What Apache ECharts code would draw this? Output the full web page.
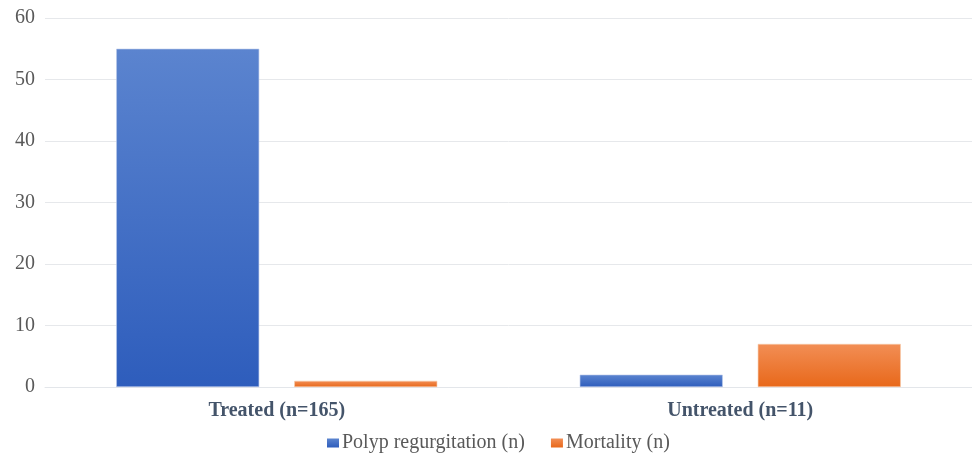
<!DOCTYPE html>
<html>
<head>
<meta charset="utf-8">
<script src="https://cdn.jsdelivr.net/npm/echarts@6/dist/echarts.min.js"></script>
<style>html,body{margin:0;padding:0;background:#fff;}#c{width:972px;height:455px;}</style>
</head>
<body>
<div id="c"></div>
<script>
const categories = ["Treated (n=165)", "Untreated (n=11)"];
const polypRegurgitation = [55, 2];
const mortality = [1, 7];
const yTicks = { min: 0, max: 60, interval: 10 };

const chart = echarts.init(document.getElementById('c'));
const grad = (top, bottom) => new echarts.graphic.LinearGradient(0, 0, 0, 1, [
  { offset: 0, color: top }, { offset: 1, color: bottom }
]);
chart.setOption({
  animation: false,
  textStyle: { fontFamily: 'Liberation Serif' },
  grid: { left: 45, right: 0, top: 18, bottom: 68 },
  legend: {
    top: 428, left: 322,
    itemWidth: 12, itemHeight: 9, itemGap: 26,
    icon: 'rect',
    itemStyle: { borderWidth: 0 },
    textStyle: { fontFamily: 'Liberation Serif', fontSize: 20, color: '#595959', padding: [0, 0, 0, -2] },
    data: ['Polyp regurgitation (n)', 'Mortality (n)']
  },
  xAxis: {
    type: 'category',
    data: categories,
    axisTick: { show: false },
    axisLine: { lineStyle: { color: '#e3e6ea' } },
    axisLabel: { fontFamily: 'Liberation Serif', fontSize: 20, fontWeight: 'bold', color: '#44546a', margin: 14 }
  },
  yAxis: {
    type: 'value',
    min: yTicks.min, max: yTicks.max, interval: yTicks.interval,
    axisLine: { show: false },
    axisTick: { show: false },
    splitLine: { lineStyle: { color: '#e6e8eb' } },
    axisLabel: { fontFamily: 'Liberation Serif', fontSize: 20, color: '#595959', margin: 10 }
  },
  series: [
    {
      name: 'Polyp regurgitation (n)', type: 'bar', data: polypRegurgitation,
      barWidth: 143, barGap: '24.5%',
      itemStyle: { color: grad('#5b84cf', '#2e5dbc'), borderColor: '#b8c8ea', borderWidth: 0.6 }
    },
    {
      name: 'Mortality (n)', type: 'bar', data: mortality,
      barWidth: 143,
      itemStyle: { color: grad('#f28e55', '#e8681a'), borderColor: '#f6c9a8', borderWidth: 0.6 }
    }
  ]
});
</script>
</body>
</html>
